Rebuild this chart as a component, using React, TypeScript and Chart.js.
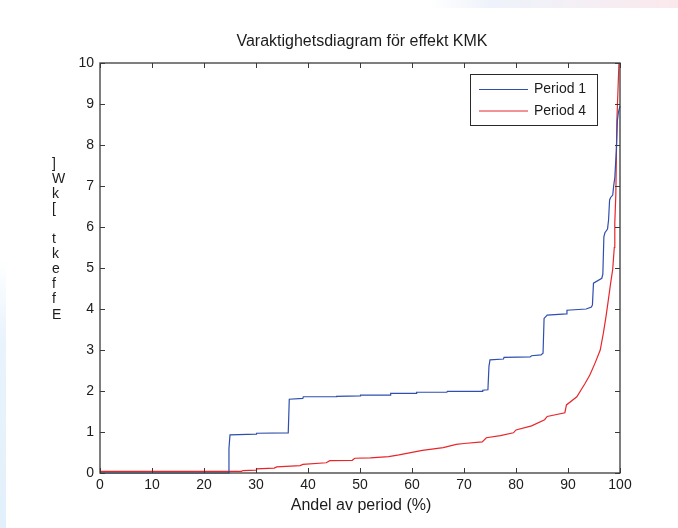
import { useEffect, useRef } from "react";
import { Chart, registerables } from "chart.js";

Chart.register(...registerables);

// Duration curve: share of the period (%) vs. power (kW)
const period1Share = [0, 24.7, 24.8, 25.0, 30.0, 30.1, 36.2, 36.4, 39.0, 39.1, 45.4, 45.5, 50.0, 50.1, 55.8, 55.9, 60.8, 60.9, 66.7, 66.8, 73.5, 73.6, 74.6, 74.8, 75.0, 77.6, 77.7, 82.7, 83.0, 84.8, 85.2, 85.4, 86.0, 89.7, 89.8, 93.5, 94.5, 94.7, 94.9, 96.5, 96.7, 96.9, 97.1, 97.6, 97.8, 98.0, 98.2, 98.6, 98.8, 99.0, 99.3, 99.5, 99.7, 100];
const period1Power = [0, 0, 0.6, 0.93, 0.95, 0.97, 0.98, 1.8, 1.82, 1.86, 1.86, 1.87, 1.88, 1.9, 1.9, 1.94, 1.94, 1.97, 1.97, 1.99, 1.99, 2.02, 2.03, 2.6, 2.76, 2.78, 2.82, 2.83, 2.86, 2.88, 2.92, 3.77, 3.85, 3.88, 3.97, 4.0, 4.05, 4.1, 4.63, 4.75, 4.85, 5.76, 5.86, 5.95, 6.17, 6.66, 6.72, 6.78, 7.02, 7.2, 7.88, 8.6, 8.8, 8.95];

const period4Share = [0, 27.2, 27.5, 30.0, 30.1, 33.5, 34.0, 38.5, 39.0, 43.5, 44.2, 48.5, 49.0, 52.0, 55.5, 57.5, 62.0, 66.0, 68.5, 70.0, 73.5, 74.3, 77.0, 79.5, 80.0, 83.0, 85.5, 86.0, 89.4, 89.7, 91.7, 93.3, 94.2, 95.2, 96.2, 96.8, 97.3, 97.8, 98.2, 98.6, 98.9, 99.0, 99.2, 99.4, 99.6, 99.8];
const period4Power = [0.04, 0.04, 0.06, 0.07, 0.1, 0.12, 0.15, 0.18, 0.21, 0.25, 0.3, 0.31, 0.36, 0.37, 0.4, 0.44, 0.55, 0.62, 0.7, 0.72, 0.76, 0.86, 0.91, 0.98, 1.05, 1.15, 1.3, 1.38, 1.47, 1.66, 1.86, 2.19, 2.39, 2.68, 3.0, 3.41, 3.81, 4.26, 4.63, 4.97, 5.5, 6.1, 6.8, 8.6, 9.3, 10];

const xTicks = [0, 10, 20, 30, 40, 50, 60, 70, 80, 90, 100];
const yTicks = [0, 1, 2, 3, 4, 5, 6, 7, 8, 9, 10];

const seriesNames = ["Period 1", "Period 4"];
const seriesColors = ["#2e4fae", "#e8262a"];
const titleText = "Varaktighetsdiagram för effekt KMK";
const xLabel = "Andel av period (%)";
const yLabel = "Effekt [kW]";

const FONT = "'Liberation Sans', Arial, Helvetica, sans-serif";
const INK = "#1c1c1c";

function pairs(xs: number[], ys: number[]) {
  return xs.map((x, i) => ({ x, y: ys[i] }));
}

const framePlugin = {
  id: "frameAndLabels",
  afterDraw(chart: any) {
    const { ctx, chartArea: a, scales } = chart;
    const xs = scales.x;
    const ys = scales.y;
    ctx.save();

    // axes box with inward ticks on all four sides
    ctx.strokeStyle = "#3a3a3a";
    ctx.lineWidth = 1.3;
    ctx.strokeRect(a.left, a.top, a.right - a.left, a.bottom - a.top);
    const tl = 5;
    ctx.lineWidth = 1;
    ctx.beginPath();
    xTicks.forEach((v) => {
      const px = Math.round(xs.getPixelForValue(v)) + 0.5;
      ctx.moveTo(px, a.bottom);
      ctx.lineTo(px, a.bottom - tl);
      ctx.moveTo(px, a.top);
      ctx.lineTo(px, a.top + tl);
    });
    yTicks.forEach((v) => {
      const py = Math.round(ys.getPixelForValue(v)) + 0.5;
      ctx.moveTo(a.left, py);
      ctx.lineTo(a.left + tl, py);
      ctx.moveTo(a.right, py);
      ctx.lineTo(a.right - tl, py);
    });
    ctx.stroke();

    // title
    ctx.fillStyle = INK;
    ctx.font = `16px ${FONT}`;
    ctx.textAlign = "center";
    ctx.textBaseline = "middle";
    ctx.fillText(titleText, (a.left + a.right) / 2 + 2, 42);

    // x-axis title
    ctx.fillText(xLabel, (a.left + a.right) / 2 + 1, 506);

    // y-axis title, characters stacked upright
    ctx.font = `14px ${FONT}`;
    ctx.textAlign = "left";
    ctx.textBaseline = "alphabetic";
    const chars = yLabel.split("").reverse();
    chars.forEach((c, i) => {
      ctx.fillText(c, 52, 167.5 + i * 15.1);
    });

    // legend
    const lx = 470.5, ly = 74.5, lw = 127, lh = 51;
    ctx.fillStyle = "#ffffff";
    ctx.fillRect(lx, ly, lw, lh);
    ctx.strokeStyle = "#2a2a2a";
    ctx.lineWidth = 1;
    ctx.strokeRect(lx, ly, lw, lh);
    ctx.font = `14px ${FONT}`;
    ctx.textBaseline = "middle";
    seriesNames.forEach((name, i) => {
      const yy = 89.5 + i * 21.5;
      ctx.strokeStyle = seriesColors[i];
      ctx.beginPath();
      ctx.moveTo(479, yy);
      ctx.lineTo(528, yy);
      ctx.stroke();
      ctx.fillStyle = INK;
      ctx.fillText(name, 534, yy);
    });

    ctx.restore();
  },
};

export default function App() {
  const canvasRef = useRef<HTMLCanvasElement | null>(null);

  useEffect(() => {
    const canvas = canvasRef.current;
    if (!canvas) return;
    const chart = new Chart(canvas, {
      type: "line",
      data: {
        datasets: [
          {
            label: seriesNames[0],
            data: pairs(period1Share, period1Power),
            borderColor: seriesColors[0],
            borderWidth: 1.2,
            pointRadius: 0,
            fill: false,
            tension: 0,
          },
          {
            label: seriesNames[1],
            data: pairs(period4Share, period4Power),
            borderColor: seriesColors[1],
            borderWidth: 1.2,
            pointRadius: 0,
            fill: false,
            tension: 0,
          },
        ],
      },
      options: {
        responsive: false,
        animation: false,
        devicePixelRatio: 1,
        layout: { padding: { top: 63, right: 58, bottom: 0, left: 0 } },
        plugins: {
          legend: { display: false },
          title: { display: false },
          tooltip: { enabled: false },
        },
        elements: { line: { borderJoinStyle: "miter" } },
        datasets: { line: { clip: 4 } } as any,
        scales: {
          x: {
            type: "linear",
            min: 0,
            max: 100,
            grid: { display: false, drawTicks: false },
            border: { display: false },
            afterFit: (s: any) => {
              s.height = 55;
            },
            afterBuildTicks: (s: any) => {
              s.ticks = xTicks.map((v) => ({ value: v }));
            },
            ticks: {
              padding: 4,
              maxRotation: 0,
              autoSkip: false,
              color: INK,
              font: { family: FONT, size: 14 },
            },
          },
          y: {
            type: "linear",
            min: 0,
            max: 10,
            grid: { display: false, drawTicks: false },
            border: { display: false },
            afterFit: (s: any) => {
              s.width = 100;
            },
            afterBuildTicks: (s: any) => {
              s.ticks = yTicks.map((v) => ({ value: v }));
            },
            ticks: {
              padding: 6,
              autoSkip: false,
              color: INK,
              font: { family: FONT, size: 14 },
            },
          },
        },
      },
      plugins: [framePlugin],
    });
    return () => chart.destroy();
  }, []);

  return (
    <div style={{ position: "absolute", left: 0, top: 0, width: 678, height: 528, background: "#ffffff", overflow: "hidden" }}>
      <div
        style={{
          position: "absolute",
          left: 430,
          top: 0,
          width: 248,
          height: 8,
          background: "linear-gradient(90deg, rgba(236,241,250,0) 0%, #eef2fa 25%, #f3f0f6 55%, #fbe8ec 100%)",
        }}
      />
      <div
        style={{
          position: "absolute",
          left: 0,
          top: 260,
          width: 6,
          height: 268,
          background: "linear-gradient(180deg, rgba(230,242,252,0) 0%, #e8f3fc 30%, #e2f0fb 100%)",
        }}
      />
      <canvas ref={canvasRef} width={678} height={528} style={{ position: "absolute", left: 0, top: 0 }} />
    </div>
  );
}
